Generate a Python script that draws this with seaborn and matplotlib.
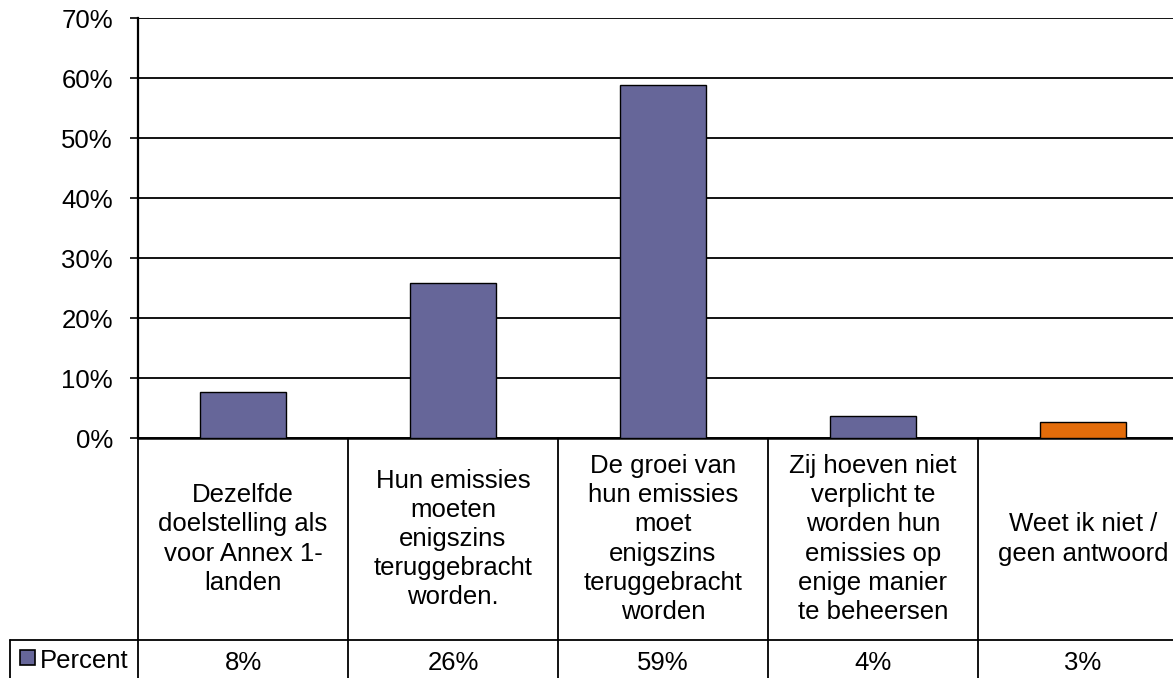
import matplotlib
matplotlib.use("Agg")
from matplotlib import pyplot as plt
from matplotlib.patches import Rectangle
from matplotlib.lines import Line2D
import matplotlib.transforms as mtransforms
import seaborn as sns

# Data
categories = [
    "Dezelfde\ndoelstelling als\nvoor Annex 1-\nlanden",
    "Hun emissies\nmoeten\nenigszins\nteruggebracht\nworden.",
    "De groei van\nhun emissies\nmoet\nenigszins\nteruggebracht\nworden",
    "Zij hoeven niet\nverplicht te\nworden hun\nemissies op\nenige manier\nte beheersen",
    "Weet ik niet /\ngeen antwoord",
]
values = [7.7, 25.8, 58.8, 3.7, 2.6]
table_labels = ["8%", "26%", "59%", "4%", "3%"]
bar_colors = ["#666699", "#666699", "#666699", "#666699", "#E36C0A"]
series_name = "Percent"
yticks = [0, 10, 20, 30, 40, 50, 60, 70]

sns.set_style("white")
plt.rcParams['font.family'] = ['Liberation Sans', 'DejaVu Sans']
plt.rcParams['text.color'] = 'black'
plt.rcParams['ytick.color'] = 'black'
plt.rcParams['ytick.labelcolor'] = 'black'
FS = 18.5

W, H = 1173, 678
fig = plt.figure(figsize=(W / 100, H / 100), dpi=100)
# plot area: x 138..1188 px, y 18..438 px
ax = fig.add_axes([138 / W, (H - 438) / H, 1050 / W, 420 / H])

sns.barplot(x=list(range(len(values))), y=values, hue=list(range(len(values))),
            palette=bar_colors, legend=False, width=0.405, saturation=1,
            edgecolor="black", linewidth=1, ax=ax, zorder=3)

ax.set_xlim(-0.5, len(values) - 0.5)
ax.set_ylim(0, 70)
ax.set_yticks(yticks)
ax.set_yticklabels([f"{t}%" for t in yticks], fontsize=FS, color="black")
ax.set_xticks([])
ax.set_xlabel("")
ax.set_ylabel("")
ax.tick_params(axis="y", direction="out", length=6, width=1.2, color="black",
               pad=12, left=True)
ax.yaxis.grid(True, color="black", linewidth=1.3)
ax.set_axisbelow(True)
for s in ["top", "right"]:
    ax.spines[s].set_visible(False)
ax.spines["left"].set_color("black")
ax.spines["left"].set_linewidth(1.6)
ax.spines["bottom"].set_color("black")
ax.spines["bottom"].set_linewidth(1.8)

# data table below the plot
trans = mtransforms.blended_transform_factory(ax.transData, ax.transAxes)
row1_bottom = -202 / 420
table_bottom = -0.7
for i in range(len(values) + 1):
    ax.add_line(Line2D([i - 0.5, i - 0.5], [0, table_bottom], transform=trans,
                       color="black", linewidth=1.3, clip_on=False))
for i, (cat, lab) in enumerate(zip(categories, table_labels)):
    ax.text(i, row1_bottom / 2, cat, transform=trans, ha="center", va="center",
            fontsize=FS, linespacing=1.27, clip_on=False)
    ax.text(i, -225 / 420, lab, transform=trans, ha="center", va="center",
            fontsize=FS, clip_on=False)

# horizontal line over the percent row, starting at the legend cell
fig.add_artist(Line2D([10 / W, 1.0], [(H - 640) / H, (H - 640) / H],
                      transform=fig.transFigure, color="black", linewidth=1.3))
fig.add_artist(Line2D([10 / W, 10 / W], [(H - 640) / H, 0],
                      transform=fig.transFigure, color="black", linewidth=1.3))
fig.add_artist(Rectangle((20 / W, (H - 665) / H), 15 / W, 15 / H,
                         transform=fig.transFigure, facecolor=bar_colors[0],
                         edgecolor="black", linewidth=1.2))
fig.text(40 / W, (H - 661) / H, series_name, ha="left", va="center", fontsize=FS)

fig.savefig("out.png", dpi=100)
